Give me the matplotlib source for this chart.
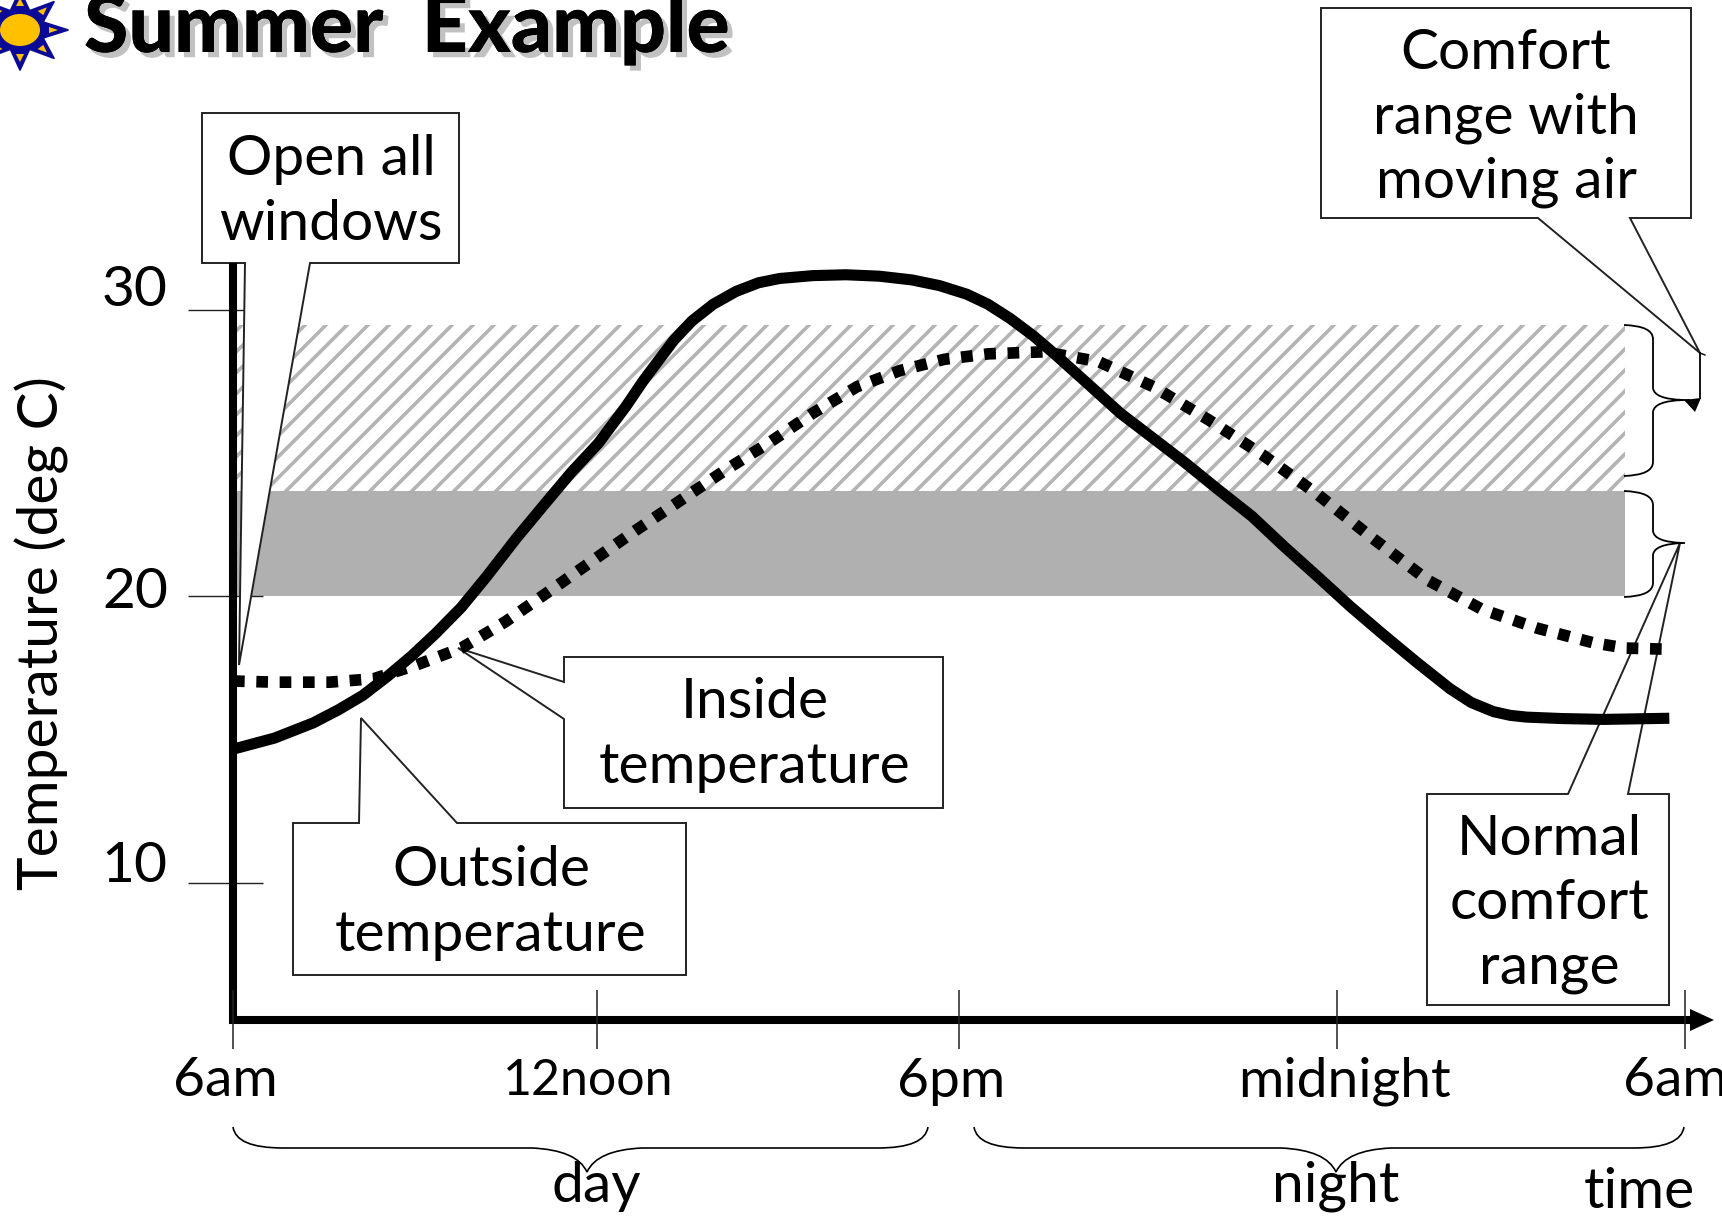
import numpy as np
import matplotlib
matplotlib.use("Agg")
import matplotlib.pyplot as plt
from matplotlib.transforms import Affine2D
from matplotlib.patches import Polygon, Ellipse, PathPatch
from matplotlib.path import Path
import matplotlib.patheffects as pe

# ---- data (hours after 6am, deg C) ----
outside_h = [0,0.69,1.33,1.75,2.15,2.55,2.96,3.35,3.78,4.2,4.69,5.15,5.6,6.05,6.51,6.8,7.05,7.3,7.6,7.95,8.33,8.7,9.05,9.6,10.15,10.7,11.24,11.7,12.15,12.5,12.87,13.25,13.6,14.15,14.69,15.2,15.78,16.3,16.87,17.4,17.96,18.5,19.05,19.6,20.15,20.5,20.87,21.15,21.42,22.0,22.69,23.78]
outside_t = [14.67,15.06,15.59,16.05,16.55,17.2,17.93,18.7,19.62,20.7,22.03,23.2,24.33,25.35,26.65,27.55,28.25,28.95,29.62,30.2,30.65,30.95,31.1,31.2,31.23,31.18,31.05,30.85,30.55,30.2,29.7,29.1,28.47,27.43,26.4,25.58,24.64,23.75,22.8,21.75,20.69,19.65,18.66,17.7,16.78,16.3,15.98,15.85,15.79,15.74,15.71,15.75]
inside_h = [0,0.69,1.6,2.33,3.05,3.78,4.51,5.24,5.96,6.69,7.42,8.15,8.87,9.6,10.33,11.05,11.78,12.51,13.42,14.33,15.24,16.15,17.05,17.96,18.87,19.78,20.69,21.6,22.51,23.05,23.75]
inside_t = [17.05,17.01,17.01,17.13,17.62,18.2,19.12,20.19,21.26,22.34,23.37,24.41,25.36,26.4,27.32,27.89,28.28,28.47,28.54,28.2,27.32,26.17,24.94,23.56,22.03,20.57,19.54,18.89,18.39,18.2,18.16]
normal_band = [20.0, 23.68]
moving_band = [23.68, 29.46]
band_end = 23.04
y_ticks = [10, 20, 30]
x_ticks = [0, 6.02, 12.02, 18.27, 24.04]
x_labels = ["6am", "12noon", "6pm", "midnight", "6am"]

W, H, DPI = 1722, 1217, 126
S = 100 / DPI   # sizes below are given as points at 100 dpi
FONT = "Lato"
plt.rcParams["hatch.linewidth"] = 2.6 * S
plt.rcParams["hatch.color"] = "#b4b4b4"

fig = plt.figure(figsize=(W / DPI, H / DPI), dpi=DPI)
ax = fig.add_axes([0, 0, 1, 1])
ax.set_xlim(-233 / 60.4, (W - 233) / 60.4)
ax.set_ylim(30 - (H - 310) / 28.65, 30 + 310 / 28.65)
ax.axis("off")
px = Affine2D().scale(1, -1).translate(0, H)

# bands
ax.fill_between([0, band_end], *normal_band, color="#b0b0b0", lw=0, zorder=1)
ax.fill_between([0, band_end], *moving_band, facecolor="white", edgecolor="#b4b4b4", hatch="//", lw=0, zorder=1)

# ticks
ax.hlines(y_ticks, -0.75, 0.5, color="#222222", lw=1.0 * S, zorder=2)
ax.vlines(x_ticks, 4.2, 6.25, color="#222222", lw=1.1 * S, zorder=6.5)

def txt(x, y, s, size=41, **kw):
    kw.setdefault("ha", "center")
    kw.setdefault("va", "center")
    ax.text(x, y, s, transform=px, fontsize=size * S, family=FONT, color="black", zorder=8, **kw)

def callout(pts):
    ax.add_patch(Polygon(pts, closed=True, transform=px, fc="white", ec="#222222", lw=1.4 * S, zorder=3, joinstyle="miter"))

callout([(202,113),(459,113),(459,263),(310,263),(239,665),(245,263),(202,263)])
callout([(1321,8),(1691,8),(1691,218),(1630,218),(1700,353),(1538,218),(1321,218)])
callout([(1427,794),(1568,794),(1680,543),(1628,794),(1669,794),(1669,1005),(1427,1005)])
callout([(564,657),(943,657),(943,808),(564,808),(564,719),(458,648),(564,682)])
callout([(293,823),(359,823),(361,718),(457,823),(686,823),(686,975),(293,975)])

def brace_v(x0, x1, x2, ytop, ymid, ybot):
    v = [(x0,ytop),(x1,ytop+1),(x1,ytop+14),(x1,ymid-12),(x1+1,ymid-1),(x1+30,ymid),(x2,ymid),
         (x1+30,ymid),(x1+1,ymid+1),(x1,ymid+12),(x1,ybot-14),(x1,ybot-1),(x0,ybot)]
    c = [Path.MOVETO,Path.CURVE3,Path.CURVE3,Path.LINETO,Path.CURVE3,Path.CURVE3,Path.LINETO,
         Path.MOVETO,Path.CURVE3,Path.CURVE3,Path.LINETO,Path.CURVE3,Path.CURVE3]
    ax.add_patch(PathPatch(Path(v, c), transform=px, fc="none", ec="black", lw=1.3 * S, zorder=4))

def brace_h(xl, xm, xr, ytop, yline, ytip):
    v = [(xl,ytop),(xl+3,yline),(xl+50,yline),(xm-55,yline),(xm-10,yline+2),(xm,ytip),
         (xm+10,yline+2),(xm+55,yline),(xr-50,yline),(xr-3,yline),(xr,ytop)]
    c = [Path.MOVETO,Path.CURVE3,Path.CURVE3,Path.LINETO,Path.CURVE3,Path.CURVE3,
         Path.CURVE3,Path.CURVE3,Path.LINETO,Path.CURVE3,Path.CURVE3]
    ax.add_patch(PathPatch(Path(v, c), transform=px, fc="none", ec="black", lw=1.2 * S, zorder=4))

brace_v(1624, 1653, 1690, 325, 400, 476)
brace_v(1624, 1653, 1685, 491, 543, 597)
brace_h(233, 587, 928, 1127, 1148, 1172)
brace_h(974, 1336, 1684, 1127, 1148, 1172)

# arrow from the comfort callout tip
ax.plot([1700, 1700], [353, 398], transform=px, color="black", lw=1.3 * S, zorder=4)
ax.plot([1700, 1705], [353, 355], transform=px, color="black", lw=1.0 * S, zorder=4)
ax.add_patch(Polygon([(1684,400),(1701,398),(1695,412)], transform=px, fc="black", ec="none", zorder=4))

# axes
ax.plot([233, 233], [263, 1024], transform=px, color="black", lw=5.8 * S, solid_capstyle="butt", zorder=6)
ax.plot([229, 1695], [1020, 1020], transform=px, color="black", lw=5.8 * S, solid_capstyle="butt", zorder=6)
ax.add_patch(Polygon([(1690,1009),(1714,1020),(1690,1031)], transform=px, fc="black", ec="none", zorder=6))

# curves
ax.plot(inside_h, inside_t, color="black", lw=8.4 * S, ls=(0, (1, 1)), dash_capstyle="butt", zorder=5)
ax.plot(outside_h, outside_t, color="black", lw=8 * S, solid_capstyle="butt", solid_joinstyle="round", zorder=5.5)

# text
LS = 1.32
txt(331, 192, "Open all\nwindows", linespacing=LS)
txt(1506, 118, "Comfort\nrange with\nmoving air", linespacing=LS)
txt(1549, 904, "Normal\ncomfort\nrange", linespacing=LS)
txt(755, 735, "Inside\ntemperature", linespacing=LS)
txt(491, 903, "Outside\ntemperature", linespacing=LS)
for s, x, y in zip(["30", "20", "10"], [135, 135, 134], [291, 593, 866]):
    txt(x, y, s)
for s, x, sz in zip(x_labels, [225, 588, 951, 1344, 1675], [39.7, 36, 39.7, 39.7, 39.7]):
    txt(x, 1081, s, size=sz)
txt(596, 1186, "day")
txt(1336, 1186, "night")
txt(1639, 1192, "time")
txt(42, 633, "Temperature (deg C)", rotation=90)

# title and sun
ax.text(84, 52, "Summer  Example", transform=px, fontsize=58 * S, family=FONT, fontweight="black",
        ha="left", va="baseline", color="black", zorder=8,
        path_effects=[pe.withSimplePatchShadow(offset=(3, -3), shadow_rgbFace="#999999", alpha=0.6), pe.Normal()])
cx, cy = 20, 30
angles = np.deg2rad(np.arange(0, 360, 22.5))
radii = np.tile([1.0, 0.52], 8)
star = np.c_[cx + 48 * radii * np.cos(angles), cy + 40 * radii * np.sin(angles)]
ax.add_patch(Polygon(star, transform=px, fc="#0a0a96", ec="#0a0a96", lw=1, zorder=7, joinstyle="round"))
for a in np.deg2rad(np.arange(0, 360, 45)):
    perp = a + np.pi / 2
    tri = [(cx + 38*np.cos(a), cy + 32*np.sin(a)),
           (cx + 29*np.cos(a) + 4*np.cos(perp), cy + 24*np.sin(a) + 3*np.sin(perp)),
           (cx + 29*np.cos(a) - 4*np.cos(perp), cy + 24*np.sin(a) - 3*np.sin(perp))]
    ax.add_patch(Polygon(tri, transform=px, fc="#ffc000", ec="none", zorder=7.1))
ax.add_patch(Ellipse((cx, cy), 40, 32, transform=px, fc="#ffc000", ec="none", zorder=7.2))

fig.savefig("out.png", dpi=DPI, facecolor="white")
